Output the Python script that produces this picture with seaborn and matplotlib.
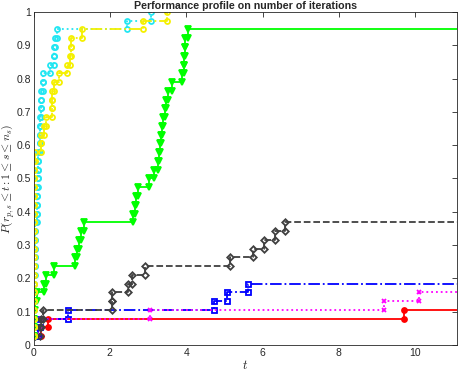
import numpy as np
import pandas as pd
import matplotlib
matplotlib.use('Agg')
import matplotlib.pyplot as plt
import seaborn as sns

# number of test problems
n_problems = 38
t_fail = 25.0   # unsolved problems sit beyond the visible range

# each solver: distinct log2 ratios t and how many problems reach that t
red_t = [0.0, 0.2, 0.38, 9.7]
red_n = [1, 1, 1, 1]

blue_t = [0.05, 0.11, 0.16, 0.9, 4.72, 5.07, 5.62]
blue_n = [1, 1, 1, 1, 1, 1, 1]

magenta_t = [0.05, 0.12, 0.2, 3.05, 9.18, 10.1]
magenta_n = [1, 1, 1, 1, 1, 1]

gray_t = [0.03, 0.16, 0.2, 0.25, 2.06, 2.48, 2.57, 2.92, 5.16, 5.75, 6.03, 6.32, 6.6]
gray_n = [1, 1, 1, 1, 2, 1, 1, 1, 1, 1, 1, 1, 1]

green_t = [0.0, 0.05, 0.1, 0.28, 0.33, 0.55, 1.08, 1.14, 1.2, 1.25, 1.32,
           2.6, 2.65, 2.68, 2.74, 3.02, 3.15, 3.25, 3.28, 3.31, 3.34, 3.37,
           3.4, 3.44, 3.48, 3.52, 3.63, 3.9, 3.93, 3.95, 3.97, 4.05]
green_n = [4, 1, 1, 1, 1, 1, 1, 1, 1, 1, 1,
           1, 1, 1, 1, 1, 1, 1, 1, 1, 1, 1,
           1, 1, 1, 1, 1, 1, 1, 1, 2, 1]

cyan_t = [0.0, 0.03, 0.08, 0.11, 0.16, 0.2, 0.25, 0.42, 0.53, 0.55, 0.57, 0.62, 2.45, 3.08]
cyan_n = [8, 6, 4, 4, 4, 3, 2, 1, 1, 1, 1, 1, 1, 1]

yellow_t = [0.0, 0.03, 0.2, 0.27, 0.32, 0.48, 0.55, 0.68, 0.88, 0.95, 0.99, 1.27, 2.86, 3.49]
yellow_n = [21, 1, 2, 1, 1, 3, 1, 1, 1, 1, 2, 1, 1, 1]

solvers = [
    (red_t, red_n, '#ff0000', '-', 'o', True),
    (blue_t, blue_n, '#0000ff', '-.', 's', False),
    (magenta_t, magenta_n, '#ff00ff', ':', 'x', True),
    (gray_t, gray_n, '#404040', '--', 'D', False),
    (green_t, green_n, '#00ff00', '-', 'v', True),
    (cyan_t, cyan_n, '#22e6f2', ':', 'o', False),
    (yellow_t, yellow_n, '#f5f000', '-.', 'o', False),
]


def stairs(t_vals, counts):
    ratios = np.repeat(t_vals, counts)
    ratios = np.concatenate([ratios, np.full(n_problems - len(ratios), t_fail)])
    frac = np.arange(1, n_problems + 1) / n_problems
    xs = np.repeat(ratios, 2)[1:]
    ys = np.repeat(frac, 2)[:-1]
    return pd.DataFrame({'t': xs, 'p': ys})


sns.set_style('white')
plt.rcParams['font.family'] = ['Liberation Sans', 'DejaVu Sans']
plt.rcParams['mathtext.fontset'] = 'cm'

fig = plt.figure(figsize=(4.59, 3.73), dpi=100)
ax = fig.add_axes([0.073, 0.075, 0.923, 0.893])

for t_vals, counts, col, ls, mk, filled in solvers:
    df = stairs(t_vals, counts)
    sizes = {'o': 3.6, 's': 3.6, 'x': 3.4, 'D': 3.3, 'v': 5.0}
    sns.lineplot(data=df, x='t', y='p', sort=False, estimator=None, ax=ax,
                 color=col, linestyle=ls, linewidth=1.3, marker=mk,
                 markersize=sizes[mk],
                 markerfacecolor=col if filled else 'none',
                 markeredgecolor=col, markeredgewidth=1.3, clip_on=True)

ax.set_xlim(0, 11.1)
ax.set_ylim(0, 1)
ax.set_xticks([0, 2, 4, 6, 8, 10])
ax.set_yticks(np.arange(0, 1.01, 0.1))
ax.set_yticklabels(['0', '0.1', '0.2', '0.3', '0.4', '0.5', '0.6', '0.7', '0.8', '0.9', '1'])
ax.tick_params(direction='in', length=3.5, width=0.6, top=True, right=True,
               labelsize=7.5, colors='#262626', pad=2)
for s in ax.spines.values():
    s.set_color('#262626')
    s.set_linewidth(0.6)

ax.set_xlabel('$t$', fontsize=9, labelpad=1)
ax.set_ylabel(r'$P(r_{p,s} \leq t : 1 \leq s \leq n_s)$', fontsize=8.5)
ax.yaxis.set_label_coords(-0.041, 0.5)
ax.set_title('Performance profile on number of iterations', fontsize=7.7,
             fontweight='bold', pad=2)

fig.savefig('out.png', dpi=100)
